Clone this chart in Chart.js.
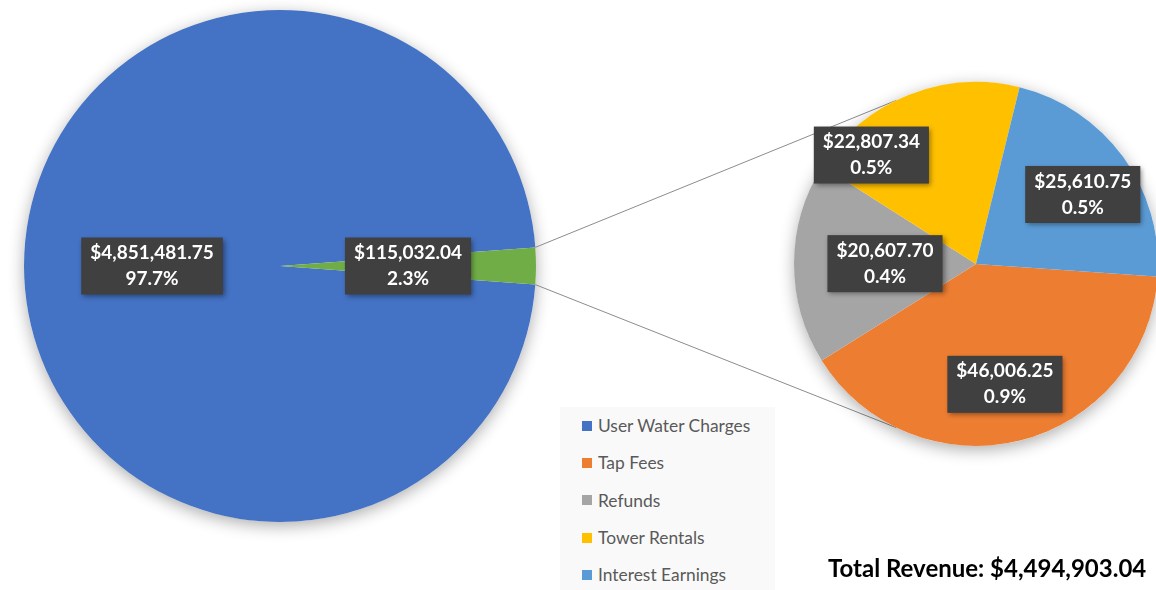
<!DOCTYPE html>
<html>
<head>
<meta charset="utf-8">
<title>Revenue</title>
<script src="https://cdn.jsdelivr.net/npm/chart.js@4.4.1/dist/chart.umd.min.js"></script>
<style>
  html, body { margin: 0; padding: 0; background: #fff; overflow: hidden; }
  #wrap { position: relative; width: 1156px; height: 590px; font-family: Lato, "Open Sans", sans-serif; }
  #wrap canvas { position: absolute; left: 0; top: 0; }
  #legend { position: absolute; left: 560px; top: 407px; width: 215px; height: 190px; background: #f9f9f9; }
  .legend-item { height: 37.3px; display: flex; align-items: center; padding-left: 22px; color: #595959; font-size: 17.4px; }
  .legend-box { width: 10px; height: 10px; margin-right: 6px; }
  #total { position: absolute; left: 828px; top: 554px; font-size: 24px; font-weight: bold; color: #000; line-height: 28px; white-space: nowrap; }
</style>
</head>
<body>
<div id="wrap">
  <canvas id="mainPie" width="1156" height="590"></canvas>
  <canvas id="subPie" width="1156" height="590"></canvas>
  <div id="legend"></div>
  <div id="total"></div>
</div>
<script>
// ===== DATA =====
const mainLabels = ["User Water Charges", "Other Revenue"];
const mainValues = [4851481.75, 115032.04];
const mainColors = ["#4472C4", "#70AD47"];

const subLabels = ["Tap Fees", "Refunds", "Tower Rentals", "Interest Earnings"];
const subValues = [46006.25, 20607.70, 22807.34, 25610.75];
const subColors = ["#ED7D31", "#A5A5A5", "#FFC000", "#5B9BD5"];

const totalText = "Total Revenue: $4,494,903.04";

// label placement: fraction of radius + angle shift (deg) from slice middle
const mainLabelPos = [{ frac: 0.5, shift: 0 }, { frac: 0.5, shift: 0 }];
const subLabelPos = [
  { frac: 0.68, shift: 0.5 },
  { frac: 0.5, shift: 0 },
  { frac: 0.83, shift: -22 },
  { frac: 0.70, shift: 3 }
];

const grandTotal = mainValues.reduce((a, b) => a + b, 0);
const money = v => "$" + v.toLocaleString("en-US", { minimumFractionDigits: 2, maximumFractionDigits: 2 });
const pct = v => (v / grandTotal * 100).toFixed(1) + "%";

// ===== PLUGINS =====
const pieShadow = {
  id: "pieShadow",
  beforeDatasetsDraw(chart) {
    const arc = chart.getDatasetMeta(0).data[0];
    if (!arc) return;
    const ctx = chart.ctx;
    ctx.save();
    ctx.shadowColor = "rgba(0,0,0,0.32)";
    ctx.shadowBlur = 16;
    ctx.shadowOffsetY = 4;
    ctx.fillStyle = "#fff";
    ctx.beginPath();
    ctx.arc(arc.x, arc.y, arc.outerRadius, 0, Math.PI * 2);
    ctx.fill();
    ctx.restore();
  }
};

function boxLabels(placement) {
  return {
    id: "boxLabels",
    afterDatasetsDraw(chart) {
      const ctx = chart.ctx;
      const ds = chart.data.datasets[0];
      chart.getDatasetMeta(0).data.forEach((arc, i) => {
        const p = placement[i];
        const mid = (arc.startAngle + arc.endAngle) / 2 + p.shift * Math.PI / 180;
        const cx = arc.x + Math.cos(mid) * arc.outerRadius * p.frac;
        const cy = arc.y + Math.sin(mid) * arc.outerRadius * p.frac;
        const lines = [money(ds.data[i]), pct(ds.data[i])];
        ctx.save();
        ctx.font = "bold 19px Lato, 'Open Sans', sans-serif";
        const w = Math.max(...lines.map(t => ctx.measureText(t).width)) + 18;
        const h = 57;
        ctx.shadowColor = "rgba(0,0,0,0.4)";
        ctx.shadowBlur = 5;
        ctx.shadowOffsetX = 2;
        ctx.shadowOffsetY = 2;
        ctx.fillStyle = "#404040";
        ctx.fillRect(cx - w / 2, cy - h / 2, w, h);
        ctx.shadowColor = "transparent";
        ctx.fillStyle = "#fff";
        ctx.textAlign = "center";
        ctx.textBaseline = "middle";
        ctx.fillText(lines[0], cx, cy - 13);
        ctx.fillText(lines[1], cx, cy + 13);
        ctx.restore();
      });
    }
  };
}

// ===== MAIN PIE =====
const greenShare = mainValues[1] / grandTotal;
const mainChart = new Chart(document.getElementById("mainPie"), {
  type: "pie",
  data: {
    labels: mainLabels,
    datasets: [{ data: mainValues, backgroundColor: mainColors, borderWidth: 0 }]
  },
  options: {
    responsive: false,
    animation: false,
    rotation: 90 + greenShare * 180,
    radius: 256,
    layout: { padding: { left: 24, top: 10, right: 620, bottom: 68 } },
    events: [],
    plugins: { legend: { display: false }, tooltip: { enabled: false } }
  },
  plugins: [pieShadow, boxLabels(mainLabelPos)]
});

// ===== CONNECTOR LINES =====
const connectorAngle = 116; // deg, where lines meet the secondary pie
const connectors = {
  id: "connectors",
  beforeDatasetsDraw(chart) {
    const src = mainChart.getDatasetMeta(0).data[1];
    const dst = chart.getDatasetMeta(0).data[0];
    if (!src || !dst) return;
    const ctx = chart.ctx;
    const a = connectorAngle * Math.PI / 180;
    const ends = [
      [src.startAngle, -a],
      [src.endAngle, a]
    ];
    ctx.save();
    ctx.strokeStyle = "#8c8c8c";
    ctx.lineWidth = 1;
    ends.forEach(([sa, da]) => {
      ctx.beginPath();
      ctx.moveTo(src.x + Math.cos(sa) * src.outerRadius, src.y + Math.sin(sa) * src.outerRadius);
      ctx.lineTo(dst.x + Math.cos(da) * dst.outerRadius, dst.y + Math.sin(da) * dst.outerRadius);
      ctx.stroke();
    });
    ctx.restore();
  }
};

// ===== SECONDARY PIE =====
new Chart(document.getElementById("subPie"), {
  type: "pie",
  data: {
    labels: subLabels,
    datasets: [{ data: subValues, backgroundColor: subColors, borderWidth: 0 }]
  },
  options: {
    responsive: false,
    animation: false,
    rotation: 94,
    radius: 182,
    layout: { padding: { left: 796, top: 84, right: 0, bottom: 146 } },
    events: [],
    plugins: { legend: { display: false }, tooltip: { enabled: false } }
  },
  plugins: [connectors, pieShadow, boxLabels(subLabelPos)]
});

// ===== LEGEND & TOTAL =====
const legendNames = [mainLabels[0], ...subLabels];
const legendColors = [mainColors[0], ...subColors];
document.getElementById("legend").innerHTML = legendNames.map((name, i) => `
  <div class="legend-item"><span class="legend-box" style="background:${legendColors[i]}"></span>${name}</div>
`).join("");
document.getElementById("total").textContent = totalText;
</script>
</body>
</html>
